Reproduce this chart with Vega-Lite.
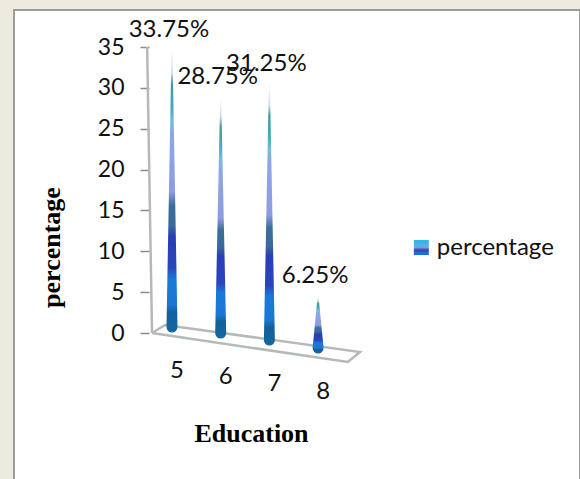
{
  "$schema": "https://vega.github.io/schema/vega-lite/v6.json",
  "width": 566,
  "height": 479,
  "autosize": "none",
  "padding": {"left": 14, "top": 10, "right": 0, "bottom": 0},
  "background": "#EDEBE0",
  "config": {
    "view": {"fill": "#FFFFFF", "stroke": "#9C9C9C", "strokeWidth": 2},
    "text": {"font": "Lato", "fontSize": 24, "color": "#111111"}
  },
  "datasets": {
    "spikes": [
      {"education": 5, "percentage": 33.75, "floor": 0.73},
      {"education": 6, "percentage": 28.75, "floor": 0},
      {"education": 7, "percentage": 31.25, "floor": -0.86},
      {"education": 8, "percentage": 6.25, "floor": -1.84}
    ],
    "frame": [
      {"part": "wall", "step": 1, "education": 4.49, "level": 35},
      {"part": "wall", "step": 2, "education": 4.59, "level": 0},
      {"part": "floor", "step": 1, "education": 4.59, "level": 0},
      {"part": "floor", "step": 2, "education": 4.86, "level": 0.98},
      {"part": "floor", "step": 3, "education": 8.86, "level": -2.33},
      {"part": "floor", "step": 4, "education": 8.61, "level": -3.55},
      {"part": "floor", "step": 5, "education": 4.59, "level": 0}
    ],
    "key": [
      {"series": "percentage", "education": 10.12, "level": 10.46}
    ]
  },
  "encoding": {
    "x": {
      "field": "education",
      "type": "quantitative",
      "scale": {"domain": [1.756, 13.378], "nice": false, "zero": false},
      "axis": {
        "title": "Education",
        "labels": false,
        "ticks": false,
        "domain": false,
        "grid": false,
        "titleFont": "Liberation Serif",
        "titleFontWeight": "bold",
        "titleFontSize": 26,
        "titleColor": "#000000",
        "titleX": 237,
        "titleY": -56,
        "titleBaseline": "middle",
        "titleAlign": "center"
      }
    },
    "y": {
      "field": "level",
      "type": "quantitative",
      "scale": {"domain": [-19.09, 39.53], "nice": false, "zero": false},
      "axis": {
        "title": "percentage",
        "values": [0, 5, 10, 15, 20, 25, 30, 35],
        "domain": false,
        "grid": false,
        "offset": -135,
        "tickSize": 9,
        "tickColor": "#8A8A8A",
        "tickWidth": 1.5,
        "labelFont": "Lato",
        "labelFontSize": 23,
        "labelColor": "#111111",
        "labelPadding": 16,
        "titleFont": "Liberation Serif",
        "titleFontWeight": "bold",
        "titleFontSize": 26,
        "titleColor": "#000000",
        "titleX": -98,
        "titleY": 237,
        "titleBaseline": "middle",
        "titleAlign": "center",
        "titleAngle": -90
      }
    }
  },
  "layer": [
    {
      "data": {"name": "frame"},
      "mark": {"type": "line", "color": "#B6BAB6", "strokeWidth": 2.5, "clip": false},
      "encoding": {
        "detail": {"field": "part"},
        "order": {"field": "step", "type": "quantitative"}
      }
    },
    {
      "data": {"name": "spikes"},
      "transform": [
        {"calculate": "datum.floor + datum.percentage", "as": "top"},
        {"fold": ["floor", "top"], "as": ["end", "level"]}
      ],
      "mark": {
        "type": "trail",
        "color": {
          "gradient": "linear",
          "x1": 0, "y1": 0, "x2": 0, "y2": 1,
          "stops": [
            {"offset": 0, "color": "#FAFBFD"},
            {"offset": 0.08, "color": "#D0D8E6"},
            {"offset": 0.12, "color": "#3F9A9E"},
            {"offset": 0.2, "color": "#46A8B8"},
            {"offset": 0.25, "color": "#74BEDC"},
            {"offset": 0.3, "color": "#8FA6E6"},
            {"offset": 0.5, "color": "#8E9CE2"},
            {"offset": 0.55, "color": "#3C6C98"},
            {"offset": 0.62, "color": "#3A6A9A"},
            {"offset": 0.66, "color": "#2A3DB6"},
            {"offset": 0.77, "color": "#2A45BC"},
            {"offset": 0.81, "color": "#1A78DA"},
            {"offset": 0.9, "color": "#1A78D4"},
            {"offset": 0.93, "color": "#14609C"},
            {"offset": 1, "color": "#13689E"}
          ]
        }
      },
      "encoding": {
        "detail": {"field": "education"},
        "order": {"field": "level", "type": "quantitative"},
        "size": {
          "field": "end",
          "type": "ordinal",
          "scale": {"domain": ["top", "floor"], "range": [1, 11]},
          "legend": null
        }
      }
    },
    {
      "data": {"name": "spikes"},
      "transform": [
        {"calculate": "datum.floor + datum.percentage", "as": "level"},
        {"calculate": "format(datum.percentage, '.2f') + '%'", "as": "label"}
      ],
      "mark": {"type": "text", "dy": -21, "dx": -3},
      "encoding": {"text": {"field": "label"}}
    },
    {
      "data": {"name": "spikes"},
      "transform": [{"calculate": "datum.floor", "as": "level"}],
      "mark": {"type": "text", "dy": 44, "dx": 5},
      "encoding": {"text": {"field": "education", "type": "nominal"}}
    },
    {
      "data": {"name": "key"},
      "mark": {
        "type": "point",
        "shape": "square",
        "size": 225,
        "filled": true,
        "opacity": 1,
        "strokeWidth": 0,
        "color": {
          "gradient": "linear",
          "x1": 0, "y1": 0, "x2": 0, "y2": 1,
          "stops": [
            {"offset": 0, "color": "#2AB4E4"},
            {"offset": 0.4, "color": "#54B4E4"},
            {"offset": 0.5, "color": "#8A92DC"},
            {"offset": 0.62, "color": "#4A5CA8"},
            {"offset": 0.72, "color": "#2A40B8"},
            {"offset": 0.8, "color": "#1670DC"},
            {"offset": 1, "color": "#1670DC"}
          ]
        }
      }
    },
    {
      "data": {"name": "key"},
      "mark": {"type": "text", "align": "left", "dx": 15.5},
      "encoding": {"text": {"field": "series"}}
    }
  ]
}
